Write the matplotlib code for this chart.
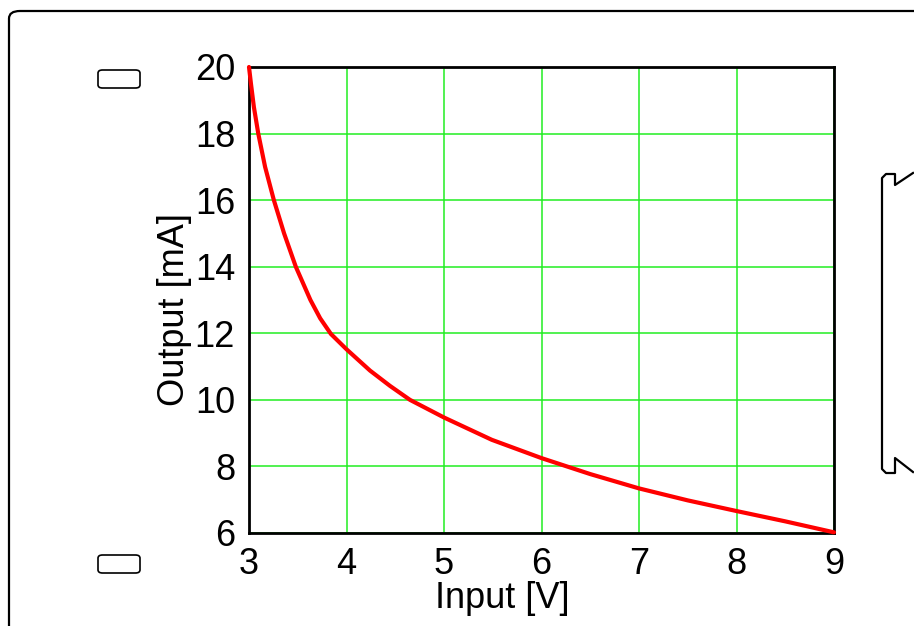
import matplotlib
matplotlib.use("Agg")
import matplotlib.pyplot as plt
from matplotlib.patches import FancyBboxPatch
from matplotlib.lines import Line2D

# Data
input_v = [3.0, 3.02, 3.05, 3.095, 3.165, 3.255, 3.36, 3.48, 3.63, 3.73, 3.84,
           4.0, 4.241, 4.446, 4.651, 5.0, 5.49, 6.0, 6.5, 7.0, 7.5, 8.0, 8.5, 9.0]
output_ma = [20.0, 19.5, 18.8, 18.0, 17.0, 16.0, 15.0, 14.0, 13.0, 12.45, 11.98,
             11.52, 10.88, 10.42, 10.0, 9.47, 8.8, 8.25, 7.77, 7.34, 6.98, 6.66, 6.35, 6.02]
x_ticks = [3, 4, 5, 6, 7, 8, 9]
y_ticks = [6, 8, 10, 12, 14, 16, 18, 20]

W, H = 914, 626
plt.rcParams['font.family'] = ['Liberation Sans', 'DejaVu Sans']
fig = plt.figure(figsize=(W / 100, H / 100), dpi=100)
fig.patch.set_facecolor('white')

def fx(px):
    return px / W

def fy(py):
    return 1 - py / H

ax = fig.add_axes([fx(249), fy(533), (834 - 249) / W, (533 - 67) / H])
ax.plot(input_v, output_ma, color='#ff0000', lw=3.0, solid_capstyle='round',
        solid_joinstyle='round', zorder=3, clip_on=False)
ax.set_xlim(3, 9)
ax.set_ylim(6, 20)
ax.set_xticks(x_ticks)
ax.set_yticks(y_ticks)
ax.set_xticklabels([str(t) for t in x_ticks])
ax.set_yticklabels([str(t) for t in y_ticks])
ax.grid(True, color='#22ee22', lw=1.1)
ax.set_axisbelow(True)
ax.tick_params(axis='y', length=0, labelsize=26, pad=10, colors='black')
ax.tick_params(axis='x', length=0, labelsize=26, pad=10, colors='black')
for s in ax.spines.values():
    s.set_color('black')
    s.set_linewidth(2)
ax.set_xlabel('Input [V]', fontsize=26)
ax.set_ylabel('Output [mA]', fontsize=26)
ax.xaxis.set_label_coords((502 - 249) / 585, (533 - 581) / 466)
ax.yaxis.set_label_coords((192 - 249) / 585, (533 - 310) / 466)

# Decorative frame and symbols (figure pixel coordinates)
frame = FancyBboxPatch((fx(9), fy(640)), fx(940) - fx(9), fy(11) - fy(640),
                       boxstyle='round,pad=0,rounding_size=0.012',
                       transform=fig.transFigure, fill=False, ec='black', lw=1.6,
                       clip_on=False)
fig.patches.append(frame)
for top in (70, 555):
    box = FancyBboxPatch((fx(98), fy(top + 18)), fx(140) - fx(98), fy(top) - fy(top + 18),
                         boxstyle='round,pad=0,rounding_size=0.005',
                         transform=fig.transFigure, fill=False, ec='black', lw=1.2)
    fig.patches.append(box)

bx = [913, 895, 895, 886, 882, 882, 886, 895, 895, 913]
by = [173, 185, 174, 174, 178, 469, 473, 473, 458, 472]
fig.lines.append(Line2D([fx(v) for v in bx], [fy(v) for v in by],
                        transform=fig.transFigure, color='black', lw=1.6))

fig.savefig('out.png', dpi=100)
